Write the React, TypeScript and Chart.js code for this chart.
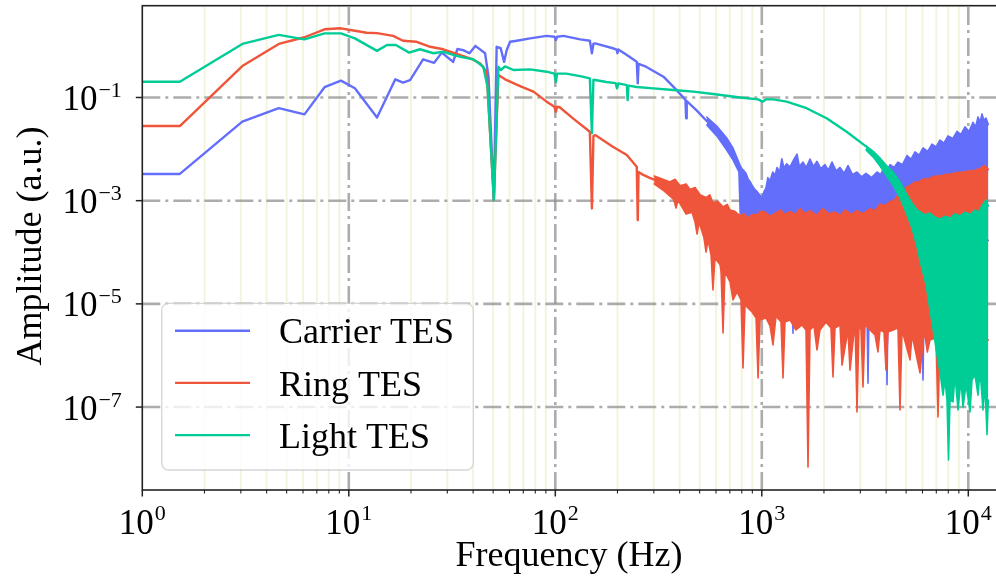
import React, { useEffect, useRef } from 'react';
import { Chart, registerables } from 'chart.js';

Chart.register(...registerables);

// ---------- axis values ----------
const X_MIN = 1;
const X_MAX = 14240;
const Y_MIN = 2.47e-9;
const Y_MAX = 6.01;
const X_TICKS = [1, 10, 100, 1000, 10000];
const X_TICK_EXP = ['0', '1', '2', '3', '4'];
const Y_TICKS = [1e-1, 1e-3, 1e-5, 1e-7];
const Y_TICK_EXP = ['\u22121', '\u22123', '\u22125', '\u22127'];
const X_LABEL = 'Frequency (Hz)';
const Y_LABEL = 'Amplitude (a.u.)';
const LABELS = ['Carrier TES', 'Ring TES', 'Light TES'];
const COLORS = ['#636EFA', '#EF553B', '#00CC96'];

// ---------- Carrier TES ----------
const CARRIER_F = [1, 1.52, 3.05, 4.58, 6.1, 7.63, 9.16, 10.7, 13.7, 16.8, 18.3, 19.8, 22.9, 25.9, 28.2, 32.0, 33.6, 35.8, 38.4, 41.0, 45.7, 47.5, 50.4, 52.0, 54.4, 56.5, 58.2, 60.4, 65.1, 75.5, 90.8, 99, 100.7, 102, 109.5, 132, 147, 150.4, 153, 156, 190, 198, 200, 202, 222, 248, 250.8, 253, 275, 334, 386, 427, 430, 433, 482, 541];
const CARRIER_A = [3.3e-3, 3.3e-3, 0.034, 0.062, 0.047, 0.158, 0.212, 0.151, 0.041, 0.225, 0.194, 0.218, 0.55, 0.47, 0.74, 0.49, 0.87, 0.83, 0.72, 1.0, 0.72, 0.25, 1.03e-3, 0.96, 0.9, 0.49, 0.83, 1.2, 1.26, 1.4, 1.56, 1.5, 1.3, 1.5, 1.56, 1.34, 1.26, 0.72, 1.1, 1.12, 0.9, 0.85, 0.72, 0.85, 0.667, 0.494, 0.188, 0.45, 0.395, 0.253, 0.14, 0.09, 0.0395, 0.085, 0.057, 0.035];
const CARRIER_HI_F = [541, 605, 676, 725, 784, 800, 820, 838, 860, 880, 897, 920, 948, 975, 1002, 1025, 1048, 1070, 1095, 1130, 1160, 1185, 1220, 1250, 1280, 1320, 1369, 1420, 1481, 1520, 1583, 1640, 1712, 1780, 1851, 1930, 2023, 2100, 2188, 2290, 2392, 2500, 2615, 2750, 2891, 3040, 3196, 3400, 3614, 3760, 3907, 4040, 4176, 4370, 4566, 4800, 5049, 5280, 5519, 5780, 6035, 6350, 6673, 6980, 7294, 7620, 7976, 8400, 8817, 9200, 9639, 10080, 10539, 10850, 11143, 11400, 11651, 11900, 12182, 12500];
const CARRIER_HI_A = [0.0419, 0.028, 0.0164, 0.0105, 4.9e-3, 4.2e-3, 3.8e-3, 3.4e-3, 2.6e-3, 2.3e-3, 2.0e-3, 1.7e-3, 1.5e-3, 1.3e-3, 1.13e-3, 1.5e-3, 1.76e-3, 2.8e-3, 2.4e-3, 3.6e-3, 3.1e-3, 4.4e-3, 3.6e-3, 6.5e-3, 4.3e-3, 5.2e-3, 4.5e-3, 6.0e-3, 8.0e-3, 4.6e-3, 5.6e-3, 4.4e-3, 6.4e-3, 4.6e-3, 5.8e-3, 4.2e-3, 5.0e-3, 3.9e-3, 5.6e-3, 3.8e-3, 4.4e-3, 3.4e-3, 4.8e-3, 3.2e-3, 3.6e-3, 2.9e-3, 3.4e-3, 2.8e-3, 3.6e-3, 3.2e-3, 4.4e-3, 3.7e-3, 5.0e-3, 4.4e-3, 5.6e-3, 5.0e-3, 7.5e-3, 6.4e-3, 8.8e-3, 7.6e-3, 0.0105, 9.0e-3, 0.0125, 0.011, 0.015, 0.013, 0.018, 0.016, 0.022, 0.019, 0.027, 0.022, 0.033, 0.027, 0.042, 0.033, 0.048, 0.036, 0.040, 0.030];
const CARRIER_LO_F = [541, 605, 676, 725, 775, 793, 1385, 1416, 1448, 3196, 3268, 3342, 3950, 4040, 4130, 5902, 6035, 6170, 12500];
const CARRIER_LO_A = [0.0293, 0.018, 9.6e-3, 6.2e-3, 3.6e-3, 1.7e-4, 1.7e-4, 2.7e-6, 1.7e-4, 1.7e-4, 2.9e-7, 1.7e-4, 1.7e-4, 2.7e-7, 1.7e-4, 1.7e-4, 3.35e-7, 1.7e-4, 1.7e-4];

// ---------- Ring TES ----------
const RING_F = [1, 1.52, 3.05, 4.58, 6.1, 7.63, 9.16, 10.7, 12.2, 13.7, 16.4, 18.3, 21.3, 24.8, 28.7, 33.3, 38.6, 43.2, 46.5, 50.4, 53, 57.1, 68.4, 78.4, 90.8, 99, 100.7, 102, 105, 121.8, 147, 150.4, 153, 156, 190, 222, 248, 250.8, 253, 265, 285, 301];
const RING_A = [0.028, 0.028, 0.407, 1.09, 1.47, 2.10, 2.19, 1.97, 1.80, 1.77, 1.56, 1.26, 1.2, 0.96, 0.86, 0.70, 0.575, 0.46, 0.316, 1.03e-3, 0.273, 0.225, 0.162, 0.13, 0.083, 0.066, 0.053, 0.066, 0.0646, 0.0395, 0.0217, 7.1e-4, 0.018, 0.0187, 0.0111, 7.7e-3, 4.56e-3, 4.2e-4, 3.6e-3, 3.2e-3, 2.8e-3, 2.55e-3];
const RING_HI_F = [301, 332, 359, 380, 402, 430, 449, 475, 502, 537, 560, 580, 610, 649, 680, 702, 740, 784, 820, 858, 900, 948, 990, 1036, 1090, 1158, 1230, 1290, 1369, 1450, 1531, 1620, 1712, 1840, 1979, 2100, 2262, 2400, 2529, 2700, 2891, 3100, 3342, 3550, 3736, 3950, 4176, 4370, 4566, 4800, 4993, 5250, 5519, 5760, 6035, 6450, 6898, 7300, 7714, 8200, 8817, 9500, 10190, 10800, 11397, 12044, 12500];
const RING_HI_A = [3.0e-3, 2.6e-3, 2.3e-3, 2.6e-3, 1.95e-3, 2.1e-3, 1.65e-3, 1.8e-3, 1.3e-3, 1.15e-3, 1.3e-3, 9.0e-4, 9.8e-4, 7.6e-4, 8.5e-4, 6.6e-4, 6.2e-4, 5.1e-4, 5.6e-4, 4.6e-4, 5.4e-4, 5.3e-4, 6.2e-4, 6.0e-4, 5.0e-4, 5.6e-4, 6.6e-4, 5.4e-4, 6.2e-4, 5.4e-4, 7.0e-4, 5.6e-4, 6.4e-4, 5.2e-4, 7.0e-4, 5.6e-4, 6.0e-4, 5.2e-4, 6.6e-4, 5.4e-4, 6.4e-4, 5.6e-4, 7.0e-4, 6.4e-4, 8.6e-4, 8.0e-4, 9.6e-4, 1.0e-3, 1.3e-3, 1.5e-3, 1.8e-3, 2.0e-3, 2.3e-3, 2.3e-3, 2.6e-3, 2.7e-3, 3.0e-3, 3.0e-3, 3.2e-3, 3.3e-3, 3.5e-3, 3.6e-3, 3.8e-3, 3.9e-3, 4.2e-3, 4.8e-3, 4.0e-3];
const RING_LO_F = [301, 332, 359, 376, 384, 393, 430, 459, 475, 486, 497, 525, 537, 549, 568, 580, 593, 628, 635, 649, 663, 702, 725, 759, 793, 811, 829, 897, 938, 959, 980, 1048, 1096, 1133, 1172, 1239, 1267, 1295, 1369, 1464, 1566, 1637, 1674, 1712, 1789, 1851, 1913, 2046, 2163, 2212, 2262, 2392, 2446, 2615, 2674, 2828, 2891, 2956, 3023, 3091, 3161, 3533, 3653, 3736, 3907, 3995, 4085, 4566, 4670, 4775, 5221, 5339, 5836, 6115, 6332, 6524, 6977, 7135, 7295, 9117, 10777, 12500];
const RING_LO_A = [2.11e-3, 1.61e-3, 1.23e-3, 1.03e-3, 7.2e-4, 1.03e-3, 5.5e-4, 6.0e-4, 3.86e-4, 2.26e-4, 3.86e-4, 1.89e-4, 1.01e-4, 1.73e-4, 8.9e-5, 1.86e-5, 7.8e-5, 5.7e-5, 4.15e-5, 2.73e-6, 4.15e-5, 2.66e-5, 1.19e-5, 1.70e-5, 1.19e-5, 5.7e-7, 9.5e-6, 6.97e-6, 5.33e-6, 3.66e-7, 4.88e-6, 5.33e-6, 3.73e-6, 1.6e-6, 5.83e-6, 4.46e-6, 3.66e-7, 4.46e-6, 4.88e-6, 3.12e-6, 3.90e-6, 3.12e-6, 6.9e-9, 3.12e-6, 3.73e-6, 1.28e-6, 3.12e-6, 4.46e-6, 3.41e-6, 3.83e-7, 3.41e-6, 3.90e-6, 6.5e-7, 3.12e-6, 5.2e-7, 4.46e-6, 8.0e-8, 3.90e-6, 3.12e-6, 2.45e-7, 3.90e-6, 2.5e-6, 1.17e-6, 3.12e-6, 2.85e-6, 5.24e-7, 2.85e-6, 3.41e-6, 8.8e-8, 3.12e-6, 8.2e-7, 2.5e-6, 4.6e-7, 3.1e-6, 1.17e-6, 2.0e-6, 2.18e-6, 6.4e-8, 2.18e-6, 2.0e-6, 1.6e-6, 2.0e-6];

// ---------- Light TES ----------
const LIGHT_F = [1, 1.52, 3.05, 4.58, 6.1, 7.63, 9.16, 10.7, 13.7, 15.3, 16.9, 19.6, 22.1, 25.7, 28.7, 32.1, 35.8, 40.1, 44.8, 47.0, 50.4, 53, 54.5, 57.1, 62.7, 75.5, 90.8, 99, 100.7, 102, 113, 131.8, 147, 150.4, 153, 156, 177, 196, 199, 202, 222, 224, 226, 248, 298, 373, 466, 582, 784, 960, 1009, 1050, 1137, 1320, 1648, 2060, 2575, 3196];
const LIGHT_A = [0.202, 0.202, 1.09, 1.63, 1.34, 1.75, 1.75, 1.40, 0.80, 1.04, 1.04, 0.74, 0.86, 0.72, 0.77, 0.667, 0.60, 0.55, 0.395, 0.16, 1.03e-3, 0.395, 0.341, 0.40, 0.341, 0.35, 0.316, 0.29, 0.2, 0.29, 0.29, 0.26, 0.235, 0.0202, 0.22, 0.218, 0.2, 0.19, 0.15, 0.188, 0.173, 0.089, 0.17, 0.16, 0.15, 0.14, 0.13, 0.117, 0.1, 0.092, 0.083, 0.092, 0.092, 0.083, 0.062, 0.0395, 0.0217, 0.0113];
const LIGHT_HI_F = [3196, 3494, 3736, 3995, 4320, 4670, 4993, 5339, 5662, 6170, 6500, 6898, 7300, 7714, 8200, 8622, 9100, 9639, 10200, 10777, 11200, 11651, 12182, 12500];
const LIGHT_HI_A = [0.0115, 8.8e-3, 6.7e-3, 4.9e-3, 3.6e-3, 2.3e-3, 1.41e-3, 9.0e-4, 6.6e-4, 5.3e-4, 5.8e-4, 4.8e-4, 4.4e-4, 5.0e-4, 4.6e-4, 5.6e-4, 5.0e-4, 6.0e-4, 5.4e-4, 6.6e-4, 6.0e-4, 8.0e-4, 1.03e-3, 7.9e-4];
const LIGHT_LO_F = [3196, 3494, 3736, 3995, 4320, 4670, 4993, 5339, 5662, 5856, 6254, 6523, 6823, 7054, 7294, 7543, 7714, 7886, 8019, 8152, 8432, 8622, 8916, 9218, 9425, 9748, 9968, 10190, 10420, 10777, 11143, 11397, 11782, 12044, 12320, 12500];
const LIGHT_LO_A = [9.6e-3, 6.7e-3, 4.7e-3, 3.15e-3, 2.0e-3, 1.13e-3, 6.0e-4, 2.96e-4, 1.21e-4, 6.5e-5, 2.3e-5, 7.6e-6, 2.5e-6, 1.02e-6, 4.8e-7, 1.7e-7, 3.35e-7, 1.37e-7, 9.4e-9, 1.37e-7, 1.26e-7, 4.2e-7, 8.8e-8, 3.35e-7, 1.0e-7, 2.7e-7, 1.5e-7, 8.0e-8, 3.35e-7, 4.2e-7, 1.7e-7, 5.2e-7, 8.8e-8, 2.7e-7, 2.9e-8, 1.37e-7];

const SERIF = '"Liberation Serif", "Times New Roman", serif';

const zip = (f: number[], a: number[]) => f.map((x, i) => ({ x, y: a[i] }));

function mainLine(label: string, f: number[], a: number[], color: string, order: number) {
  return {
    label, data: zip(f, a), borderColor: color, backgroundColor: color,
    borderWidth: 2.4, pointRadius: 0, fill: false, order, isMain: true,
  };
}
function bandEdge(f: number[], a: number[], color: string, order: number, fill: any) {
  return {
    label: '', data: zip(f, a), borderColor: color, backgroundColor: color,
    borderWidth: 1.6, pointRadius: 0, fill, order, isMain: false,
  };
}

const mplPlugin = {
  id: 'mplLook',
  beforeDatasetsDraw(chart: any) {
    const { ctx, chartArea: a } = chart;
    const xs = chart.scales.x;
    const ys = chart.scales.y;
    ctx.save();
    ctx.beginPath();
    ctx.rect(a.left, a.top, a.right - a.left, a.bottom - a.top);
    ctx.clip();
    // minor vertical grid
    ctx.strokeStyle = 'rgba(225,225,160,0.36)';
    ctx.lineWidth = 2;
    for (const dec of X_TICKS) {
      for (let m = 2; m <= 9; m++) {
        const v = dec * m;
        if (v >= X_MAX) continue;
        const px = xs.getPixelForValue(v);
        ctx.beginPath();
        ctx.moveTo(px, a.bottom);
        ctx.lineTo(px, a.top);
        ctx.stroke();
      }
    }
    // major dash-dot grid
    ctx.strokeStyle = 'rgba(140,140,140,0.72)';
    ctx.lineWidth = 2.6;
    ctx.setLineDash([18, 5, 3, 5]);
    for (const v of X_TICKS) {
      if (v <= X_MIN) continue;
      const px = xs.getPixelForValue(v);
      ctx.beginPath();
      ctx.moveTo(px, a.bottom);
      ctx.lineTo(px, a.top);
      ctx.stroke();
    }
    for (const v of Y_TICKS) {
      const py = ys.getPixelForValue(v);
      ctx.beginPath();
      ctx.moveTo(a.left, py);
      ctx.lineTo(a.right, py);
      ctx.stroke();
    }
    ctx.restore();
  },
  afterDatasetsDraw(chart: any) {
    const { ctx, chartArea: a } = chart;
    const xs = chart.scales.x;
    const ys = chart.scales.y;
    ctx.save();
    // frame
    ctx.strokeStyle = '#222';
    ctx.lineWidth = 1.6;
    ctx.strokeRect(a.left, a.top, a.right - a.left, a.bottom - a.top);
    // ticks
    ctx.lineWidth = 1.5;
    for (const v of Y_TICKS) {
      const py = ys.getPixelForValue(v);
      ctx.beginPath();
      ctx.moveTo(a.left - 6.5, py);
      ctx.lineTo(a.left, py);
      ctx.stroke();
    }
    for (const dec of X_TICKS) {
      for (let m = 1; m <= 9; m++) {
        const v = dec * m;
        if (v > X_MAX) continue;
        const px = xs.getPixelForValue(v);
        ctx.lineWidth = m === 1 ? 1.5 : 1.1;
        ctx.beginPath();
        ctx.moveTo(px, a.bottom);
        ctx.lineTo(px, a.bottom + (m === 1 ? 6.5 : 3.5));
        ctx.stroke();
      }
    }
    // tick labels
    ctx.fillStyle = '#000';
    ctx.textAlign = 'left';
    ctx.textBaseline = 'alphabetic';
    const big = `35px ${SERIF}`;
    const small = `22px ${SERIF}`;
    X_TICKS.forEach((v, i) => {
      const px = xs.getPixelForValue(v);
      ctx.font = big;
      const w1 = ctx.measureText('10').width;
      ctx.font = small;
      const w2 = ctx.measureText(X_TICK_EXP[i]).width;
      const start = px - (w1 + 1 + w2) / 2;
      ctx.font = big;
      ctx.fillText('10', start, a.bottom + 44);
      ctx.font = small;
      ctx.fillText(X_TICK_EXP[i], start + w1 + 1, a.bottom + 30);
    });
    Y_TICKS.forEach((v, i) => {
      const py = ys.getPixelForValue(v);
      ctx.font = big;
      const w1 = ctx.measureText('10').width;
      ctx.font = small;
      const w2 = ctx.measureText(Y_TICK_EXP[i]).width;
      const start = a.left - 20.5 - (w1 + 1 + w2);
      ctx.font = big;
      ctx.fillText('10', start, py + 12.5);
      ctx.font = small;
      ctx.fillText(Y_TICK_EXP[i], start + w1 + 1, py - 0.5);
    });
    // axis titles
    ctx.font = `36px ${SERIF}`;
    ctx.textAlign = 'center';
    ctx.fillText(X_LABEL, 569, 566);
    ctx.translate(40.5, 246);
    ctx.rotate(-Math.PI / 2);
    ctx.fillText(Y_LABEL, 0, 0);
    ctx.restore();
  },
  afterDraw(chart: any) {
    const { ctx } = chart;
    const mains = chart.data.datasets.filter((d: any) => d.isMain);
    ctx.save();
    const bx = 161.7, by = 303.3, bw = 311.6, bh = 166.7, r = 7;
    ctx.beginPath();
    ctx.moveTo(bx + r, by);
    ctx.arcTo(bx + bw, by, bx + bw, by + bh, r);
    ctx.arcTo(bx + bw, by + bh, bx, by + bh, r);
    ctx.arcTo(bx, by + bh, bx, by, r);
    ctx.arcTo(bx, by, bx + bw, by, r);
    ctx.closePath();
    ctx.fillStyle = 'rgba(255,255,255,0.8)';
    ctx.fill();
    ctx.strokeStyle = 'rgba(204,204,204,0.8)';
    ctx.lineWidth = 1.3;
    ctx.stroke();
    ctx.font = `36px ${SERIF}`;
    ctx.textAlign = 'left';
    ctx.textBaseline = 'alphabetic';
    mains.forEach((d: any, i: number) => {
      const yy = 330.7 + i * 52.2;
      ctx.strokeStyle = d.borderColor;
      ctx.lineWidth = 2.4;
      ctx.beginPath();
      ctx.moveTo(175, yy);
      ctx.lineTo(250, yy);
      ctx.stroke();
      ctx.fillStyle = '#000';
      ctx.fillText(d.label, 279, yy + 12.6);
    });
    ctx.restore();
  },
};

export default function App() {
  const ref = useRef<HTMLCanvasElement>(null);
  useEffect(() => {
    const datasets: any[] = [
      mainLine(LABELS[0], CARRIER_F, CARRIER_A, COLORS[0], 3),
      bandEdge(CARRIER_HI_F, CARRIER_HI_A, COLORS[0], 3, false),
      bandEdge(CARRIER_LO_F, CARRIER_LO_A, COLORS[0], 3, '-1'),
      mainLine(LABELS[1], RING_F, RING_A, COLORS[1], 2),
      bandEdge(RING_HI_F, RING_HI_A, COLORS[1], 2, false),
      bandEdge(RING_LO_F, RING_LO_A, COLORS[1], 2, '-1'),
      mainLine(LABELS[2], LIGHT_F, LIGHT_A, COLORS[2], 1),
      bandEdge(LIGHT_HI_F, LIGHT_HI_A, COLORS[2], 1, false),
      bandEdge(LIGHT_LO_F, LIGHT_LO_A, COLORS[2], 1, '-1'),
    ];
    const chart = new Chart(ref.current as HTMLCanvasElement, {
      type: 'line',
      data: { datasets },
      options: {
        responsive: false,
        animation: false,
        devicePixelRatio: 1,
        layout: { padding: { left: 142.3, top: 5.7, right: 4, bottom: 96 } },
        scales: {
          x: { type: 'logarithmic', min: X_MIN, max: X_MAX, display: false, bounds: 'data' },
          y: { type: 'logarithmic', min: Y_MIN, max: Y_MAX, display: false, bounds: 'data' },
        },
        elements: {
          point: { radius: 0 },
          line: { tension: 0, borderJoinStyle: 'round', borderCapStyle: 'round' },
        },
        plugins: {
          legend: { display: false },
          tooltip: { enabled: false },
          filler: { propagate: false },
        },
      } as any,
      plugins: [mplPlugin as any],
    });
    return () => chart.destroy();
  }, []);
  return (
    <div style={{ position: 'fixed', left: 0, top: 0, width: 996, height: 586, overflow: 'hidden', background: '#fff' }}>
      <canvas ref={ref} width={1004} height={586} style={{ width: 1004, height: 586, display: 'block' }} />
    </div>
  );
}
